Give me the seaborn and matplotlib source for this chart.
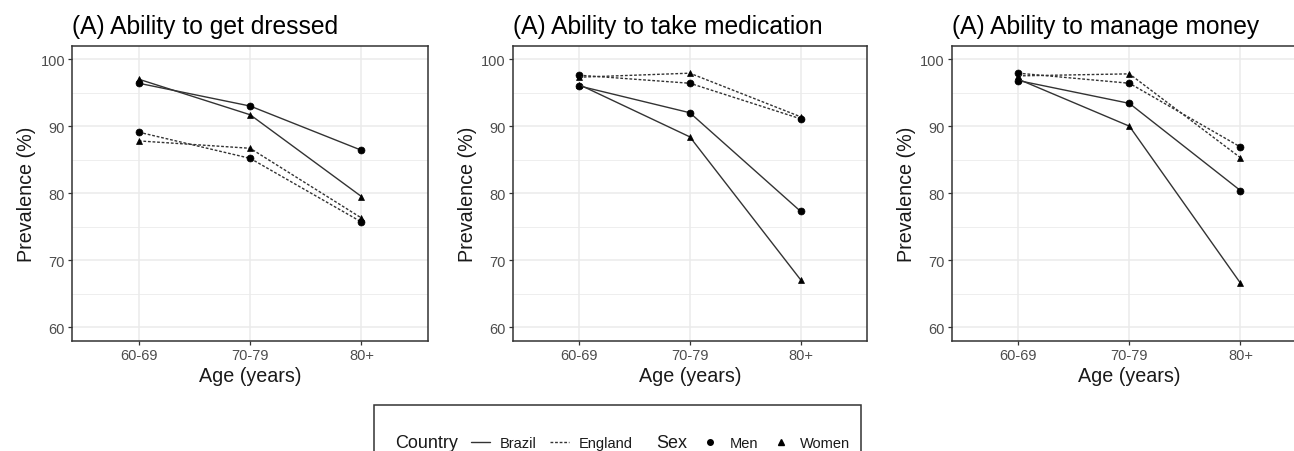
import numpy as np
import pandas as pd
import matplotlib
matplotlib.use("Agg")
import matplotlib.pyplot as plt
import seaborn as sns
from matplotlib.lines import Line2D
from matplotlib.patches import Rectangle

# ---------------- data ----------------
ages = ["60-69", "70-79", "80+"]
panel_titles = ["(A) Ability to get dressed",
                "(A) Ability to take medication",
                "(A) Ability to manage money"]

dressed_brazil_men = [96.4, 93.0, 86.4]
dressed_brazil_women = [97.0, 91.7, 79.5]
dressed_england_men = [89.1, 85.2, 75.7]
dressed_england_women = [87.8, 86.7, 76.3]

medication_brazil_men = [96.0, 92.0, 77.3]
medication_brazil_women = [96.2, 88.4, 67.1]
medication_england_men = [97.6, 96.4, 91.1]
medication_england_women = [97.3, 97.9, 91.4]

money_brazil_men = [96.8, 93.4, 80.4]
money_brazil_women = [97.0, 90.0, 66.6]
money_england_men = [97.9, 96.4, 86.9]
money_england_women = [97.5, 97.8, 85.3]

countries = ["Brazil", "England"]
sexes = ["Men", "Women"]

panels = {
    panel_titles[0]: {("Brazil", "Men"): dressed_brazil_men,
                      ("Brazil", "Women"): dressed_brazil_women,
                      ("England", "Men"): dressed_england_men,
                      ("England", "Women"): dressed_england_women},
    panel_titles[1]: {("Brazil", "Men"): medication_brazil_men,
                      ("Brazil", "Women"): medication_brazil_women,
                      ("England", "Men"): medication_england_men,
                      ("England", "Women"): medication_england_women},
    panel_titles[2]: {("Brazil", "Men"): money_brazil_men,
                      ("Brazil", "Women"): money_brazil_women,
                      ("England", "Men"): money_england_men,
                      ("England", "Women"): money_england_women},
}

rows = []
for title, series in panels.items():
    for (c, s), vals in series.items():
        for a, v in zip(ages, vals):
            rows.append({"Panel": title, "Country": c, "Sex": s,
                         "Group": f"{c}-{s}", "Age": a, "Prevalence": v})
df = pd.DataFrame(rows)

groups = [f"{c}-{s}" for c in countries for s in sexes]
dash_style = {"Brazil": "", "England": (2.0, 1.3)}
marker_style = {"Men": "o", "Women": "^"}
dash_map = {f"{c}-{s}": dash_style[c] for c in countries for s in sexes}
marker_map = {f"{c}-{s}": marker_style[s] for c in countries for s in sexes}

# ---------------- styling ----------------
sns.set_theme(style="white")
plt.rcParams["font.family"] = ["Liberation Sans", "DejaVu Sans"]

W, H = 1294, 452
fig = plt.figure(figsize=(W / 100, H / 100), dpi=100)
fig.patch.set_facecolor("white")

line_col = "#333333"
grid_col = "#ebebeb"
border_col = "#333333"
tick_lab_col = "#4d4d4d"

panel_px = [(72.0, 428.3), (512.7, 867.0), (951.7, 1307.0)]
top_px, bot_px = 46.7, 341.7

for (l, r), title in zip(panel_px, panel_titles):
    ax = fig.add_axes([l / W, 1 - bot_px / H, (r - l) / W, (bot_px - top_px) / H])
    sub = df[df["Panel"] == title]
    sns.lineplot(data=sub, x="Age", y="Prevalence", style="Group",
                 style_order=groups, markers=marker_map, dashes=dash_map,
                 color=line_col, linewidth=1.0, markersize=5,
                 markerfacecolor="black", markeredgecolor="black",
                 markeredgewidth=0.5, legend=False, ax=ax, errorbar=None)
    ax.set_xlim(-0.6, 2.6)
    ax.set_ylim(58, 102)
    ax.set_yticks([60, 70, 80, 90, 100])
    ax.set_yticks([65, 75, 85, 95], minor=True)
    ax.grid(which="major", color=grid_col, linewidth=1.1)
    ax.grid(which="minor", axis="y", color=grid_col, linewidth=0.6)
    ax.set_axisbelow(True)
    for sp in ax.spines.values():
        sp.set_color(border_col)
        sp.set_linewidth(1.1)
    ax.tick_params(which="major", length=3, width=0.9, color=border_col,
                   labelsize=10.5, labelcolor=tick_lab_col, pad=2,
                   bottom=True, left=True)
    ax.tick_params(which="minor", length=0)
    ax.set_xlabel("Age (years)", fontsize=14.2, color="#1a1a1a", labelpad=3)
    ax.set_ylabel("Prevalence (%)", fontsize=14.2, color="#1a1a1a", labelpad=3)
    ax.set_title(title, loc="left", fontsize=17.7, color="black", pad=9)

# ---------------- legend ----------------
blank_c = Line2D([], [], linestyle="none")
blank_s = Line2D([], [], linestyle="none")
h_brazil = Line2D([], [], color=line_col, lw=1.0, ls="-")
h_england = Line2D([], [], color=line_col, lw=1.0, ls=(0, dash_style["England"]))
h_men = Line2D([], [], ls="none", marker=marker_style["Men"], color="black", ms=4)
h_women = Line2D([], [], ls="none", marker=marker_style["Women"], color="black", ms=4)

handles = [blank_c, h_brazil, h_england, blank_s, h_men, h_women]
labels = ["Country", "Brazil", "England", "Sex", "Men", "Women"]
leg = fig.legend(handles, labels, loc="center", bbox_to_anchor=(0.4772, 1 - 444 / H),
                 ncol=6, frameon=False, fontsize=10.5, handlelength=1.3,
                 handletextpad=0.7, columnspacing=0.9, borderpad=0)
texts = leg.get_texts()
for i in (0, 3):
    texts[i].set_fontsize(13)
for t in texts:
    t.set_color("#1a1a1a")

# collapse handle area for title entries
try:
    cols = leg._legend_handle_box.get_children()
    entries = []
    for col in cols:
        entries.extend(col.get_children())
    for i in (0, 3):
        entries[i].get_children()[0].width = 0
except Exception:
    pass

fig.canvas.draw()
bb = leg.get_window_extent()
rect = Rectangle((bb.x0 - 10, bb.y0 - 30), bb.width + 20, bb.height + 60,
                 transform=None, fill=False, edgecolor=border_col, linewidth=1.1)
fig.add_artist(rect)

fig.savefig("out.png", dpi=100)
